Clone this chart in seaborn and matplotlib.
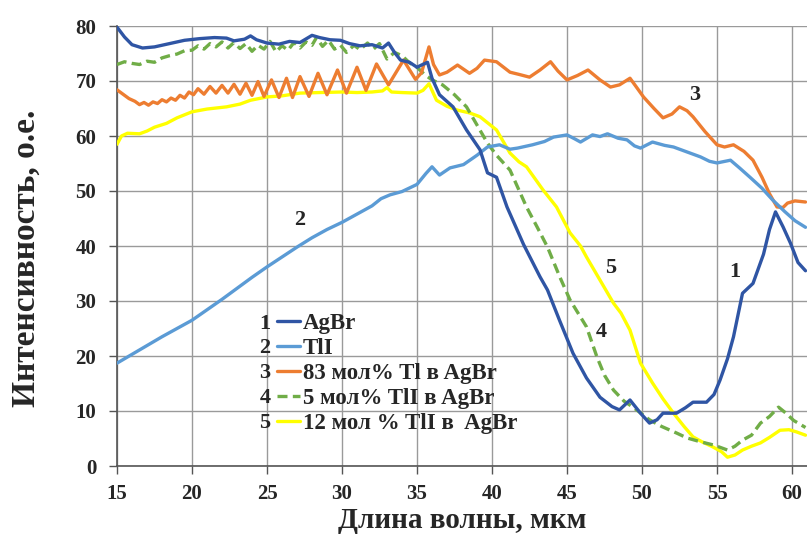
import numpy as np
import pandas as pd
import seaborn as sns
import matplotlib
matplotlib.use("Agg")
import matplotlib.pyplot as plt
from matplotlib.lines import Line2D
from matplotlib.transforms import IdentityTransform

# ---------------- data ----------------
x1 = [15.0, 15.5, 16.0, 16.7, 17.5, 18.5, 19.5, 20.5, 21.5, 22.3, 22.8, 23.5, 23.9, 24.3, 25.0, 25.8,
      26.5, 27.2, 28.0, 28.5, 29.2, 29.9, 30.5, 31.2, 32.0, 32.7, 33.1, 33.5, 33.9, 34.5, 35.0, 35.3,
      35.7, 36.0, 36.5, 37.4, 38.3, 39.2, 39.7, 40.3, 41.0, 42.1, 43.2, 43.7, 44.5, 45.4, 46.3, 47.2,
      48.0, 48.5, 49.2, 49.9, 50.5, 51.0, 51.4, 52.3, 52.9, 53.4, 54.3, 54.8, 55.2, 55.7, 56.1, 56.7,
      57.4, 58.1, 58.5, 58.9, 59.4, 59.9, 60.4, 60.9]
y1 = [79.8, 78.0, 76.6, 76.0, 76.2, 76.8, 77.4, 77.7, 77.9, 77.8, 77.3, 77.6, 78.2, 77.5, 76.9, 76.7,
      77.2, 77.0, 78.3, 77.9, 77.5, 77.4, 76.8, 76.4, 76.6, 76.0, 76.9, 75.2, 73.8, 73.4, 72.5, 72.9,
      73.4, 70.5, 67.5, 65.3, 61.1, 57.5, 53.3, 52.5, 47.1, 40.3, 34.4, 32.0, 26.5, 20.5, 16.0, 12.5,
      10.8, 10.2, 12.0, 9.6, 7.8, 8.4, 9.6, 9.6, 10.6, 11.6, 11.6, 13.0, 15.6, 19.5, 23.5, 31.4,
      33.2, 38.5, 43.0, 46.2, 43.5, 40.5, 37.0, 35.5]

x2 = [15.0, 16.0, 17.0, 18.0, 19.0, 20.0, 21.0, 22.0, 23.0, 24.0, 25.0, 26.0, 27.0, 28.0, 29.0, 30.0,
      31.0, 32.0, 32.6, 33.2, 34.0, 35.0, 35.6, 36.0, 36.5, 37.2, 38.1, 39.0, 39.7, 40.5, 41.2, 41.7,
      42.7, 43.5, 44.1, 45.0, 45.5, 45.9, 46.7, 47.2, 47.7, 48.4, 49.0, 49.5, 49.9, 50.7, 51.5, 52.1,
      53.0, 53.9, 54.5, 55.0, 55.9, 56.5, 57.2, 58.0, 58.7, 59.5, 60.2, 60.9]
y2 = [18.7, 20.3, 21.9, 23.5, 25.0, 26.5, 28.4, 30.3, 32.3, 34.3, 36.2, 38.0, 39.8, 41.5, 43.0, 44.3,
      45.8, 47.3, 48.6, 49.3, 49.9, 51.2, 53.2, 54.4, 52.9, 54.2, 54.8, 56.5, 58.0, 58.4, 57.6, 57.8,
      58.4, 59.0, 59.8, 60.2, 59.5, 58.9, 60.2, 59.9, 60.4, 59.6, 59.3, 58.2, 57.8, 58.9, 58.3, 58.0,
      57.1, 56.2, 55.4, 55.1, 55.6, 54.2, 52.5, 50.5, 48.4, 46.3, 44.6, 43.4]

x3 = [15.0, 15.4, 15.8, 16.2, 16.5, 16.8, 17.1, 17.4, 17.7, 18.0, 18.3, 18.6, 18.9, 19.2, 19.5, 19.8,
      20.1, 20.4, 20.8, 21.2, 21.6, 22.0, 22.4, 22.8, 23.2, 23.6, 24.0, 24.4, 24.8, 25.3, 25.8, 26.3,
      26.7, 27.2, 27.8, 28.4, 29.0, 29.7, 30.3, 31.0, 31.6, 32.3, 33.1, 34.1, 34.9, 35.3, 35.8, 36.1,
      36.5, 37.0, 37.7, 38.5, 39.0, 39.5, 40.3, 41.2, 41.8, 42.5, 43.2, 43.9, 44.4, 45.0, 45.7, 46.4,
      47.2, 47.9, 48.5, 49.2, 49.6, 50.1, 50.8, 51.4, 52.0, 52.5, 53.0, 53.4, 54.2, 55.0, 55.5, 56.1,
      56.8, 57.4, 58.0, 58.5, 59.0, 59.4, 59.7, 60.2, 60.9]
y3 = [68.4, 67.6, 66.8, 66.3, 65.7, 66.1, 65.6, 66.2, 65.9, 66.6, 66.2, 66.9, 66.5, 67.4, 66.9, 68.0,
      67.5, 68.6, 67.6, 69.0, 67.8, 69.2, 67.8, 69.4, 67.6, 69.6, 67.4, 69.9, 67.2, 70.2, 67.0, 70.5,
      67.0, 70.8, 67.2, 71.4, 67.5, 72.0, 67.8, 72.5, 68.3, 73.1, 69.3, 73.8, 70.3, 71.5, 76.2, 73.0,
      71.1, 71.6, 72.9, 71.4, 72.3, 73.8, 73.5, 71.6, 71.2, 70.7, 72.0, 73.5, 71.8, 70.2, 71.0, 72.0,
      70.2, 68.9, 69.3, 70.5, 69.0, 67.1, 65.0, 63.3, 64.0, 65.3, 64.6, 63.5, 60.8, 58.4, 58.0, 58.4,
      57.2, 55.6, 52.5, 49.5, 47.1, 47.0, 47.8, 48.2, 48.0]

x4 = [15.0, 15.5, 16.0, 16.5, 17.0, 17.5, 18.0, 18.5, 19.0, 19.5, 20.0, 20.4, 20.8, 21.2, 21.6, 22.0,
      22.4, 22.8, 23.2, 23.6, 24.0, 24.4, 24.8, 25.2, 25.6, 26.0, 26.4, 26.8, 27.2, 27.6, 28.0, 28.3,
      28.7, 29.1, 29.5, 29.9, 30.3, 30.8, 31.2, 31.7, 32.1, 32.5, 33.0, 33.5, 34.0, 34.5, 35.0, 35.5,
      36.0, 36.7, 37.5, 38.3, 39.0, 39.7, 40.3, 41.2, 42.3, 43.0, 43.7, 44.5, 45.2, 46.3, 47.0, 47.5,
      48.1, 48.8, 49.4, 50.5, 51.3, 52.3, 53.0, 53.9, 54.8, 55.7, 56.2, 56.7, 57.3, 57.9, 58.5, 59.1,
      59.6, 60.1, 60.9]
y4 = [73.0, 73.5, 73.2, 73.0, 73.6, 73.4, 74.2, 74.6, 74.9, 75.5, 75.6, 76.4, 75.8, 76.8, 76.2, 77.1,
      76.0, 77.0, 75.9, 76.8, 75.4, 76.5, 75.8, 77.2, 75.3, 76.4, 75.6, 77.0, 76.0, 77.1, 76.5, 77.9,
      76.3, 77.4, 75.8, 76.5, 75.2, 76.5, 75.7, 76.9, 75.8, 76.8, 74.0, 75.2, 74.6, 73.3, 72.5, 71.2,
      70.2, 69.3, 67.5, 65.3, 62.0, 58.7, 56.5, 53.8, 47.1, 43.5, 39.8, 34.5, 30.2, 25.3, 19.8, 16.5,
      13.8, 11.8, 10.7, 8.4, 7.2, 6.0, 5.1, 4.4, 3.8, 2.9, 3.6, 4.7, 5.6, 7.8, 9.0, 10.7,
      9.6, 8.3, 7.0]

x5 = [15.0, 15.3, 15.7, 16.5, 17.0, 17.5, 18.3, 19.0, 20.0, 21.0, 22.3, 23.2, 23.9, 25.0, 26.0, 27.2,
      28.5, 30.0, 31.0, 32.0, 32.7, 33.0, 33.3, 34.0, 35.0, 35.4, 35.8, 36.3, 37.0, 37.7, 38.5, 39.2,
      40.3, 41.2, 41.8, 42.3, 43.4, 44.3, 45.2, 45.9, 46.3, 47.2, 48.1, 48.6, 49.2, 49.9, 50.7, 51.4,
      52.1, 52.8, 53.4, 54.0, 54.7, 55.3, 55.7, 56.2, 56.7, 57.3, 57.9, 58.5, 59.2, 59.8, 60.3, 60.9]
y5 = [58.5, 60.0, 60.5, 60.4, 60.9, 61.6, 62.3, 63.3, 64.4, 64.9, 65.3, 65.8, 66.5, 67.1, 67.3, 67.8,
      67.9, 68.0, 67.9, 68.0, 68.2, 68.8, 68.0, 67.9, 67.8, 68.3, 69.5, 66.5, 65.4, 64.7, 64.2, 63.5,
      61.1, 56.9, 55.3, 54.4, 50.2, 47.1, 42.4, 40.0, 38.0, 33.8, 29.6, 27.8, 24.7, 18.7, 15.1, 12.2,
      9.6, 7.2, 5.3, 4.4, 3.5, 2.6, 1.6, 2.0, 2.9, 3.6, 4.2, 5.2, 6.5, 6.6, 6.2, 5.6]

legend_numbers = ["1", "2", "3", "4", "5"]
legend_labels = ["AgBr", "TlI", "83 мол% Tl в AgBr", "5 мол% TlI в AgBr", "12 мол % TlI в  AgBr"]
x_label = "Длина волны, мкм"
y_label = "Интенсивность, о.е."
x_ticks = [15, 20, 25, 30, 35, 40, 45, 50, 55, 60]
y_ticks = [0, 10, 20, 30, 40, 50, 60, 70, 80]
curve_tags = ["1", "2", "3", "4", "5"]
tag_x = [56.2, 27.2, 53.5, 47.3, 47.9]
tag_y = [35.3, 44.7, 67.5, 24.4, 36.0]

# ---------------- style ----------------
sns.set_theme(style="whitegrid")
plt.rcParams['font.family'] = ['Liberation Serif', 'DejaVu Serif']
plt.rcParams['font.weight'] = 'bold'

colors = ["#2F55A4", "#5B9BD5", "#ED7D31", "#70AD47", "#FFFF00"]

fig = plt.figure(figsize=(8.07, 5.34), dpi=100)
ax = fig.add_axes([117 / 807, 1 - 466 / 534, (807 - 117) / 807, (466 - 26) / 534])
ax.set_facecolor("white")

series = [(x1, y1), (x2, y2), (x3, y3), (x4, y4), (x5, y5)]
handles = []
for i, (xs, ys) in enumerate(series):
    ls = (0, (3, 1.6)) if i == 3 else "-"
    sns.lineplot(x=xs, y=ys, ax=ax, color=colors[i], linewidth=2.4, estimator=None,
                 sort=False, linestyle=ls, zorder=3 + (4 - i) * 0.1)
    handles.append(Line2D([0], [0], color=colors[i], linewidth=2.4, linestyle=ls))

ax.set_xlim(15, 61)
ax.set_ylim(0, 80)
ax.set_xticks(x_ticks)
ax.set_yticks(y_ticks)
ax.grid(True, color="#9a9a9a", linewidth=1.0)
for side in ["top", "right"]:
    ax.spines[side].set_visible(False)
for side in ["left", "bottom"]:
    ax.spines[side].set_visible(True)
    ax.spines[side].set_color("#555555")
    ax.spines[side].set_linewidth(1.2)
ax.tick_params(axis="both", which="major", direction="out", length=6, width=1.0,
               color="#555555", labelsize=15, bottom=True, left=True)
ax.tick_params(axis="x", pad=7)
ax.tick_params(axis="y", pad=9)
for lab in ax.get_xticklabels() + ax.get_yticklabels():
    lab.set_fontweight("bold")

ax.set_xlabel(x_label, fontsize=21, fontweight="bold")
ax.set_ylabel(y_label, fontsize=24, fontweight="bold")
ax.xaxis.set_label_coords(0.5, -0.094)
ax.yaxis.set_label_coords(-0.109, 0.473)

for t, tx, ty in zip(curve_tags, tag_x, tag_y):
    ax.text(tx, ty, t, fontsize=16, fontweight="bold", ha="center", va="center", zorder=6)

leg = ax.legend(handles, legend_labels, loc="upper left",
                bbox_to_anchor=(277 / 807, 1 - 313 / 534), bbox_transform=fig.transFigure,
                frameon=False, fontsize=16.5, handlelength=1.0, handletextpad=0.12,
                labelspacing=0.17, borderpad=0.0, borderaxespad=0.0)
for t in leg.get_texts():
    t.set_fontweight("bold")
leg.set_zorder(7)

fig.canvas.draw()
for num, t in zip(legend_numbers, leg.get_texts()):
    bb = t.get_window_extent()
    fig.text(265, (bb.y0 + bb.y1) / 2, num, transform=IdentityTransform(),
             fontsize=16, fontweight="bold", ha="center", va="center")

fig.savefig("out.png", dpi=100, facecolor="white")
